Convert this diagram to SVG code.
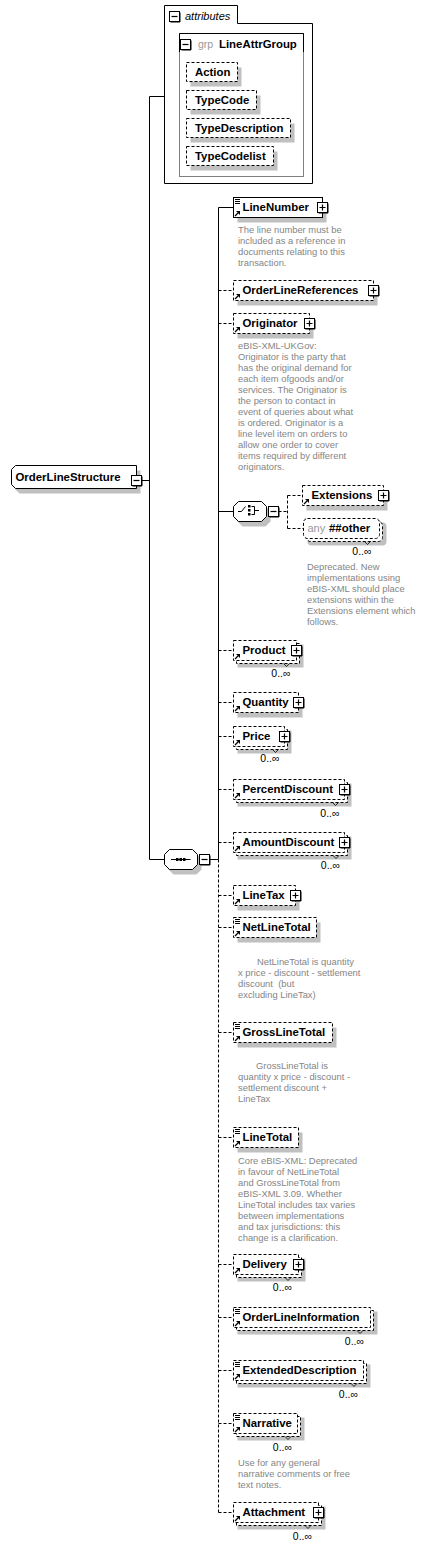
<svg xmlns="http://www.w3.org/2000/svg" width="426" height="1548" viewBox="0 0 426 1548">
<style>
.sh{fill:#c0c0c0}
.box{fill:#fff;stroke:#000;stroke-width:1}
.opt{stroke-dasharray:3,2}
.ln{fill:none;stroke:#000;stroke-width:1}
.dl{fill:none;stroke:#000;stroke-width:1;stroke-dasharray:3,2}
.lbl{font-family:"Liberation Sans",Arial,sans-serif;font-size:11.4px;font-weight:bold;fill:#000}
.doc{font-family:"Liberation Sans",Arial,sans-serif;font-size:9.4px;fill:#858585;white-space:pre}
.occ{font-family:"Liberation Sans",Arial,sans-serif;font-size:10.5px;fill:#000;text-anchor:end}
.gry{font-family:"Liberation Sans",Arial,sans-serif;font-size:11px;fill:#999}
.ital{font-family:"Liberation Sans",Arial,sans-serif;font-size:11px;font-style:italic;fill:#000}
.notch{fill:none;stroke:#000;stroke-width:0.8}
</style>
<defs>
<g id="plus"><rect x="-5" y="-5" width="10" height="10" fill="#fff" stroke="#000"/><path d="M-4,5.5H5.5V-4" fill="none" stroke="#000"/><path d="M-3,0H3M0,-3V3" stroke="#000" stroke-width="1.2" fill="none"/></g>
<g id="minus"><rect x="-5" y="-5" width="10" height="10" fill="#fff" stroke="#000"/><path d="M-4,5.5H5.5V-4" fill="none" stroke="#000"/><path d="M-3,0H3" stroke="#000" stroke-width="1.2" fill="none"/></g>
<g id="ref"><path d="M1.5,-1.5L4.5,-4.5" stroke="#000" stroke-width="1.3" fill="none"/><path d="M2.5,-6.5H6.5V-2.5Z" fill="#000"/></g>
<g id="txt"><path d="M1.5,2H6.5M1.5,4H6.5M1.5,6H6.5" stroke="#000" stroke-width="1" fill="none"/></g>
</defs>

<g id="connectors">
<path class="ln" d="M149.5,96.5V859.5M149.5,96.5H164.5M141.5,480.5H149.5M149.5,859.5H164.5M209.5,859.5H218.5"/>
<path class="ln" d="M218.5,207.5V859.5M218.5,207.5H233.5M218.5,511.5H233.5"/>
<path class="dl" d="M218.5,859.5V1512.5"/>
<path class="dl" d="M218.5,290.5H233.5M218.5,323.5H233.5M218.5,650.5H233.5M218.5,702.5H233.5M218.5,736.5H233.5M218.5,789.5H233.5M218.5,842.5H233.5M218.5,895.5H233.5M218.5,927.5H233.5M218.5,1032.5H233.5M218.5,1137.5H233.5M218.5,1264.5H233.5M218.5,1317.5H233.5M218.5,1370.5H233.5M218.5,1423.5H233.5M218.5,1512.5H233.5"/>
<path class="dl" d="M278.5,511.5H287.5M287.5,495.5V528.5M287.5,495.5H302.5M287.5,528.5H303.5"/>
</g>

<g id="attributes">
<path d="M164.5,5.5H237.5V23.5H312.5V183.5H164.5Z" fill="#fff" stroke="#000"/>
<use href="#minus" x="174.5" y="16.5"/>
<text class="ital" x="185" y="19.5">attributes</text>
<rect x="179.5" y="33.5" width="124" height="143" fill="#fff" stroke="#808080"/>
<path d="M179.5,52V33.5H303.5V52" fill="none" stroke="#000"/>
<use href="#minus" x="185.5" y="44.5"/>
<text class="gry" x="198" y="47.5" style="font-size:10.5px">grp</text>
<text class="lbl" x="219" y="47.5">LineAttrGroup</text>
</g>

<g id="attr-Action">
<rect class="sh" x="190.5" y="67.5" width="51" height="19"/>
<rect class="box opt" x="186.5" y="62.5" width="51" height="19"/>
<text class="lbl" x="195" y="76">Action</text>
</g>
<g id="attr-TypeCode">
<rect class="sh" x="190.5" y="95.5" width="70" height="19"/>
<rect class="box opt" x="186.5" y="90.5" width="70" height="19"/>
<text class="lbl" x="195" y="104">TypeCode</text>
</g>
<g id="attr-TypeDescription">
<rect class="sh" x="190.5" y="123.5" width="104" height="19"/>
<rect class="box opt" x="186.5" y="118.5" width="104" height="19"/>
<text class="lbl" x="195" y="132">TypeDescription</text>
</g>
<g id="attr-TypeCodelist">
<rect class="sh" x="190.5" y="151.5" width="87" height="19"/>
<rect class="box opt" x="186.5" y="146.5" width="87" height="19"/>
<text class="lbl" x="195" y="160">TypeCodelist</text>
</g>

<g id="n-OrderLineStructure">
<polygon class="sh" points="19.5,470.5 140.5,470.5 140.5,493.5 19.5,493.5 15.5,489.5 15.5,474.5"/>
<polygon class="box" points="15.5,465.5 136.5,465.5 136.5,488.5 15.5,488.5 11.5,484.5 11.5,469.5"/>
<text class="lbl" x="15.5" y="481">OrderLineStructure</text>
<use href="#minus" x="136.5" y="480.5"/>
</g>

<g id="n-sequence">
<polygon class="sh" points="173.5,854.5 196.5,854.5 201.5,859.5 201.5,869.5 196.5,874.5 173.5,874.5 168.5,869.5 168.5,859.5"/>
<polygon class="box" points="169.5,849.5 192.5,849.5 197.5,854.5 197.5,864.5 192.5,869.5 169.5,869.5 164.5,864.5 164.5,854.5"/>
<path class="ln" d="M171,859.5H190.5"/>
<rect x="176" y="858" width="2.5" height="3" fill="#000"/>
<rect x="179.5" y="858" width="2.5" height="3" fill="#000"/>
<rect x="183" y="858" width="2.5" height="3" fill="#000"/>
<use href="#minus" x="204.5" y="859.5"/>
</g>

<g id="n-choice">
<polygon class="sh" points="242.5,506.5 265.5,506.5 270.5,511.5 270.5,521.5 265.5,526.5 242.5,526.5 237.5,521.5 237.5,511.5"/>
<polygon class="box" points="238.5,501.5 261.5,501.5 266.5,506.5 266.5,516.5 261.5,521.5 238.5,521.5 233.5,516.5 233.5,506.5"/>
<path class="ln" d="M238,511.5H241.5L245.5,506.5"/>
<rect x="248" y="505" width="2.5" height="2.5" fill="#000"/>
<rect x="248" y="509" width="2.5" height="2.5" fill="#000"/>
<rect x="248" y="513" width="2.5" height="2.5" fill="#000"/>
<path class="ln" d="M251.5,506.5H254.5V514.5H251.5M254.5,510.5H259"/>
<use href="#minus" x="273.5" y="511.5"/>
</g>

<g id="n-LineNumber">
<rect class="sh" x="237.5" y="202.5" width="89" height="20"/>
<rect class="box" x="233.5" y="197.5" width="89" height="20"/>
<use href="#txt" x="233.5" y="197.5"/>
<use href="#ref" x="233.5" y="217.5"/>
<text class="lbl" x="242.5" y="211">LineNumber</text>
<use href="#plus" x="322.5" y="207.5"/>
<text class="doc"><tspan x="238" y="233">The line number must be</tspan><tspan x="238" y="244">included as a reference in</tspan><tspan x="238" y="255">documents relating to this</tspan><tspan x="238" y="266">transaction.</tspan></text>
</g>

<g id="n-OrderLineReferences">
<rect class="sh" x="237.5" y="285.5" width="140" height="20"/>
<rect class="box opt" x="233.5" y="280.5" width="140" height="20"/>
<use href="#ref" x="233.5" y="300.5"/>
<text class="lbl" x="242.5" y="294">OrderLineReferences</text>
<use href="#plus" x="373.5" y="290.5"/>
</g>

<g id="n-Originator">
<rect class="sh" x="237.5" y="318.5" width="76" height="20"/>
<rect class="box opt" x="233.5" y="313.5" width="76" height="20"/>
<use href="#ref" x="233.5" y="333.5"/>
<text class="lbl" x="242.5" y="327">Originator</text>
<use href="#plus" x="309.5" y="323.5"/>
<text class="doc"><tspan x="238" y="349">eBIS-XML-UKGov:</tspan><tspan x="238" y="360">Originator is the party that</tspan><tspan x="238" y="371">has the original demand for</tspan><tspan x="238" y="382">each item ofgoods and/or</tspan><tspan x="238" y="393">services. The Originator is</tspan><tspan x="238" y="404">the person to contact in</tspan><tspan x="238" y="415">event of queries about what</tspan><tspan x="238" y="426">is ordered. Originator is a</tspan><tspan x="238" y="437">line level item on orders to</tspan><tspan x="238" y="448">allow one order to cover</tspan><tspan x="238" y="459">items required by different</tspan><tspan x="238" y="470">originators.</tspan></text>
</g>

<g id="n-Extensions">
<rect class="sh" x="306.5" y="490.5" width="81" height="20"/>
<rect class="box opt" x="302.5" y="485.5" width="81" height="20"/>
<use href="#ref" x="302.5" y="505.5"/>
<text class="lbl" x="311.5" y="499">Extensions</text>
<use href="#plus" x="383.5" y="495.5"/>
</g>

<g id="n-any">
<rect class="sh" x="307.5" y="522.5" width="79" height="23" rx="4"/>
<rect class="box opt" x="306.5" y="521.5" width="76" height="20" rx="4"/>
<rect class="box opt" x="303.5" y="518.5" width="76" height="20" rx="4"/>
<text class="gry" x="307.5" y="532">any</text>
<text class="lbl" x="329" y="532">##other</text>
<path class="notch" d="M364.5,541.5L367.5,544.5L370.5,541.5"/>
<text class="occ" x="371.5" y="555">0..∞</text>
<text class="doc"><tspan x="307" y="570">Deprecated. New</tspan><tspan x="307" y="581">implementations using</tspan><tspan x="307" y="592">eBIS-XML should place</tspan><tspan x="307" y="603">extensions within the</tspan><tspan x="307" y="614">Extensions element which</tspan><tspan x="307" y="625">follows.</tspan></text>
</g>

<g id="n-Product">
<rect class="sh" x="237.5" y="644.5" width="66" height="23"/>
<rect class="box opt" x="236.5" y="643.5" width="63" height="20"/>
<rect class="box opt" x="233.5" y="640.5" width="63" height="20"/>
<use href="#ref" x="233.5" y="660.5"/>
<text class="lbl" x="242.5" y="654">Product</text>
<use href="#plus" x="296.5" y="650.5"/>
<path class="notch" d="M283.5,663.5L286.5,666.5L289.5,663.5"/>
<text class="occ" x="290.5" y="676.5">0..∞</text>
</g>

<g id="n-Quantity">
<rect class="sh" x="237.5" y="697.5" width="65" height="20"/>
<rect class="box opt" x="233.5" y="692.5" width="65" height="20"/>
<use href="#ref" x="233.5" y="712.5"/>
<text class="lbl" x="242.5" y="706">Quantity</text>
<use href="#plus" x="298.5" y="702.5"/>
</g>

<g id="n-Price">
<rect class="sh" x="237.5" y="730.5" width="54" height="23"/>
<rect class="box opt" x="236.5" y="729.5" width="51" height="20"/>
<rect class="box opt" x="233.5" y="726.5" width="51" height="20"/>
<use href="#ref" x="233.5" y="746.5"/>
<text class="lbl" x="242.5" y="740">Price</text>
<use href="#plus" x="284.5" y="736.5"/>
<path class="notch" d="M272.5,749.5L275.5,752.5L278.5,749.5"/>
<text class="occ" x="279.5" y="762">0..∞</text>
</g>

<g id="n-PercentDiscount">
<rect class="sh" x="237.5" y="783.5" width="114" height="23"/>
<rect class="box opt" x="236.5" y="782.5" width="111" height="20"/>
<rect class="box opt" x="233.5" y="779.5" width="111" height="20"/>
<use href="#ref" x="233.5" y="799.5"/>
<text class="lbl" x="242.5" y="793">PercentDiscount</text>
<use href="#plus" x="344.5" y="789.5"/>
<path class="notch" d="M332.5,802.5L335.5,805.5L338.5,802.5"/>
<text class="occ" x="339.5" y="816.5">0..∞</text>
</g>

<g id="n-AmountDiscount">
<rect class="sh" x="237.5" y="836.5" width="114" height="23"/>
<rect class="box opt" x="236.5" y="835.5" width="111" height="20"/>
<rect class="box opt" x="233.5" y="832.5" width="111" height="20"/>
<use href="#ref" x="233.5" y="852.5"/>
<text class="lbl" x="242.5" y="846">AmountDiscount</text>
<use href="#plus" x="344.5" y="842.5"/>
<path class="notch" d="M333,855.5L336,858.5L339,855.5"/>
<text class="occ" x="340" y="869">0..∞</text>
</g>

<g id="n-LineTax">
<rect class="sh" x="237.5" y="890.5" width="62" height="20"/>
<rect class="box opt" x="233.5" y="885.5" width="62" height="20"/>
<use href="#ref" x="233.5" y="905.5"/>
<text class="lbl" x="242.5" y="899">LineTax</text>
<use href="#plus" x="295.5" y="895.5"/>
</g>

<g id="n-NetLineTotal">
<rect class="sh" x="237.5" y="922.5" width="83" height="20"/>
<rect class="box opt" x="233.5" y="917.5" width="83" height="20"/>
<use href="#txt" x="233.5" y="917.5"/>
<use href="#ref" x="233.5" y="937.5"/>
<text class="lbl" x="242.5" y="931">NetLineTotal</text>
<text class="doc"><tspan x="257" y="964.5">NetLineTotal is quantity</tspan><tspan x="238" y="975.5">x price - discount - settlement</tspan><tspan x="238" y="986.5">discount  (but</tspan><tspan x="238" y="997.5">excluding LineTax)</tspan></text>
</g>

<g id="n-GrossLineTotal">
<rect class="sh" x="237.5" y="1027.5" width="99" height="20"/>
<rect class="box opt" x="233.5" y="1022.5" width="99" height="20"/>
<use href="#txt" x="233.5" y="1022.5"/>
<use href="#ref" x="233.5" y="1042.5"/>
<text class="lbl" x="242.5" y="1036">GrossLineTotal</text>
<text class="doc"><tspan x="256" y="1069">GrossLineTotal is</tspan><tspan x="238" y="1080">quantity x price - discount -</tspan><tspan x="238" y="1091">settlement discount +</tspan><tspan x="238" y="1102">LineTax</tspan></text>
</g>

<g id="n-LineTotal">
<rect class="sh" x="237.5" y="1132.5" width="65" height="20"/>
<rect class="box opt" x="233.5" y="1127.5" width="65" height="20"/>
<use href="#txt" x="233.5" y="1127.5"/>
<use href="#ref" x="233.5" y="1147.5"/>
<text class="lbl" x="242.5" y="1141">LineTotal</text>
<text class="doc"><tspan x="238" y="1163.5">Core eBIS-XML: Deprecated</tspan><tspan x="238" y="1174.5">in favour of NetLineTotal</tspan><tspan x="238" y="1185.5">and GrossLineTotal from</tspan><tspan x="238" y="1196.5">eBIS-XML 3.09. Whether</tspan><tspan x="238" y="1207.5">LineTotal includes tax varies</tspan><tspan x="238" y="1218.5">between implementations</tspan><tspan x="238" y="1229.5">and tax jurisdictions: this</tspan><tspan x="238" y="1240.5">change is a clarification.</tspan></text>
</g>

<g id="n-Delivery">
<rect class="sh" x="237.5" y="1258.5" width="68" height="23"/>
<rect class="box opt" x="236.5" y="1257.5" width="65" height="20"/>
<rect class="box opt" x="233.5" y="1254.5" width="65" height="20"/>
<use href="#ref" x="233.5" y="1274.5"/>
<text class="lbl" x="242.5" y="1268">Delivery</text>
<use href="#plus" x="298.5" y="1264.5"/>
<path class="notch" d="M285,1277.5L288,1280.5L291,1277.5"/>
<text class="occ" x="292" y="1291">0..∞</text>
</g>

<g id="n-OrderLineInformation">
<rect class="sh" x="237.5" y="1311.5" width="140" height="23"/>
<rect class="box opt" x="236.5" y="1310.5" width="137" height="20"/>
<rect class="box opt" x="233.5" y="1307.5" width="137" height="20"/>
<use href="#txt" x="233.5" y="1307.5"/>
<use href="#ref" x="233.5" y="1327.5"/>
<text class="lbl" x="242.5" y="1321">OrderLineInformation</text>
<path class="notch" d="M357,1330.5L360,1333.5L363,1330.5"/>
<text class="occ" x="364" y="1344.5">0..∞</text>
</g>

<g id="n-ExtendedDescription">
<rect class="sh" x="237.5" y="1364.5" width="133" height="23"/>
<rect class="box opt" x="236.5" y="1363.5" width="130" height="20"/>
<rect class="box opt" x="233.5" y="1360.5" width="130" height="20"/>
<use href="#txt" x="233.5" y="1360.5"/>
<use href="#ref" x="233.5" y="1380.5"/>
<text class="lbl" x="242.5" y="1374">ExtendedDescription</text>
<path class="notch" d="M351,1383.5L354,1386.5L357,1383.5"/>
<text class="occ" x="358" y="1398">0..∞</text>
</g>

<g id="n-Narrative">
<rect class="sh" x="237.5" y="1417.5" width="67" height="23"/>
<rect class="box opt" x="236.5" y="1416.5" width="64" height="20"/>
<rect class="box opt" x="233.5" y="1413.5" width="64" height="20"/>
<use href="#txt" x="233.5" y="1413.5"/>
<use href="#ref" x="233.5" y="1433.5"/>
<text class="lbl" x="242.5" y="1427">Narrative</text>
<path class="notch" d="M285,1436.5L288,1439.5L291,1436.5"/>
<text class="occ" x="292" y="1451">0..∞</text>
<text class="doc"><tspan x="238" y="1466">Use for any general</tspan><tspan x="238" y="1477">narrative comments or free</tspan><tspan x="238" y="1488">text notes.</tspan></text>
</g>

<g id="n-Attachment">
<rect class="sh" x="237.5" y="1506.5" width="88" height="23"/>
<rect class="box opt" x="236.5" y="1505.5" width="85" height="20"/>
<rect class="box opt" x="233.5" y="1502.5" width="85" height="20"/>
<use href="#ref" x="233.5" y="1522.5"/>
<text class="lbl" x="242.5" y="1516">Attachment</text>
<use href="#plus" x="318.5" y="1512.5"/>
<path class="notch" d="M305,1525.5L308,1528.5L311,1525.5"/>
<text class="occ" x="312" y="1540">0..∞</text>
</g>
</svg>
